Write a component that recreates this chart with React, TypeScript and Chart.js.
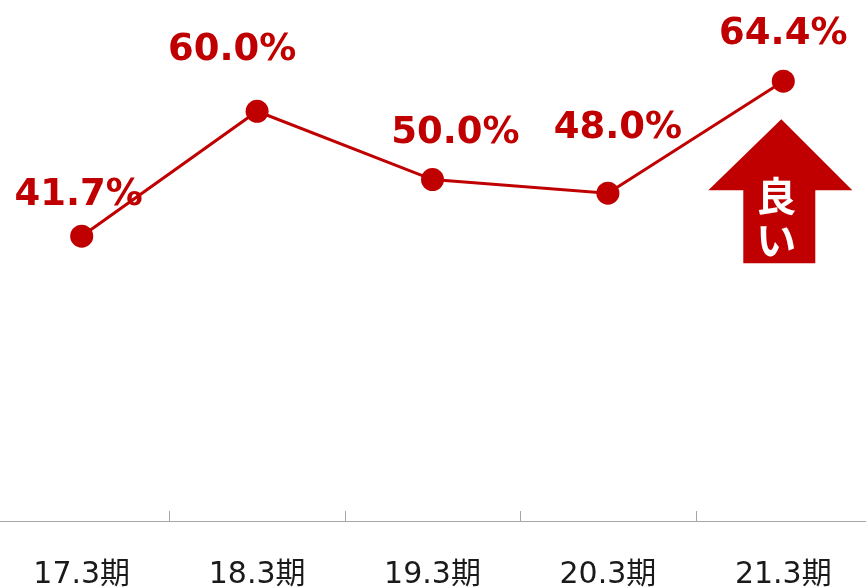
import React, { useEffect, useRef } from "react";
import { Chart, registerables } from "chart.js";

Chart.register(...registerables);

const categories = ["17.3期", "18.3期", "19.3期", "20.3期", "21.3期"];
const values = [41.7, 60.0, 50.0, 48.0, 64.4];
const valueLabels = ["41.7%", "60.0%", "50.0%", "48.0%", "64.4%"];
const labelOffsetX = [-3, -25, 23, 10, 0];
const labelOffsetY = [-41, -61, -46, -65, -47];
const arrowText = ["良", "い"];

const RED = "#C00000";

const decorPlugin = {
  id: "decor",
  afterDatasetsDraw(chart: any) {
    const ctx = chart.ctx;
    const meta = chart.getDatasetMeta(0);
    const xs = chart.scales.x;
    const area = chart.chartArea;
    ctx.save();
    // value labels
    ctx.fillStyle = RED;
    ctx.font = "bold 37px 'DejaVu Sans', Verdana, sans-serif";
    ctx.textAlign = "center";
    ctx.textBaseline = "middle";
    meta.data.forEach((pt: any, i: number) => {
      ctx.fillText(valueLabels[i], pt.x + labelOffsetX[i], pt.y + labelOffsetY[i]);
    });
    // tick marks at category boundaries (upward)
    ctx.strokeStyle = "#a6a6a6";
    ctx.lineWidth = 1;
    for (let i = 0; i < categories.length - 1; i++) {
      const x = Math.round((xs.getPixelForValue(i) + xs.getPixelForValue(i + 1)) / 2) + 0.5;
      ctx.beginPath();
      ctx.moveTo(x, area.bottom - 10);
      ctx.lineTo(x, area.bottom);
      ctx.stroke();
    }
    // arrow near last point
    const last = meta.data[meta.data.length - 1];
    const cx = last.x - 2;
    const tipY = last.y + 38;
    ctx.fillStyle = RED;
    ctx.beginPath();
    ctx.moveTo(cx, tipY);
    ctx.lineTo(cx + 71, tipY + 71);
    ctx.lineTo(cx + 34, tipY + 71);
    ctx.lineTo(cx + 34, tipY + 144);
    ctx.lineTo(cx - 38, tipY + 144);
    ctx.lineTo(cx - 38, tipY + 71);
    ctx.lineTo(cx - 73, tipY + 71);
    ctx.closePath();
    ctx.fill();
    ctx.fillStyle = "#ffffff";
    ctx.font = "bold 40px 'Noto Sans CJK JP', sans-serif";
    ctx.fillText(arrowText[0], cx - 5, tipY + 77);
    ctx.fillText(arrowText[1], cx - 5, tipY + 121);
    ctx.restore();
  },
};

export default function App() {
  const ref = useRef<HTMLCanvasElement | null>(null);
  useEffect(() => {
    document.body.style.margin = "0";
    document.body.style.overflow = "hidden";
    const chart = new Chart(ref.current as HTMLCanvasElement, {
      type: "line",
      data: {
        labels: categories,
        datasets: [
          {
            data: values,
            borderColor: RED,
            backgroundColor: RED,
            borderWidth: 3,
            pointRadius: 11.5,
            pointHoverRadius: 11.5,
            pointBackgroundColor: RED,
            pointBorderColor: RED,
            pointBorderWidth: 0,
            tension: 0,
            clip: false as any,
          },
        ],
      },
      options: {
        responsive: false,
        animation: false,
        layout: { autoPadding: false, padding: { top: 2, left: 0, right: 0, bottom: 0 } } as any,
        plugins: { legend: { display: false }, tooltip: { enabled: false } },
        scales: {
          x: {
            offset: true,
            grid: { display: false },
            border: { display: true, color: "#a6a6a6", width: 1 },
            ticks: {
              color: "#1a1a1a",
              font: { size: 30, family: "'DejaVu Sans', 'Noto Sans CJK JP', sans-serif" },
              padding: 28,
              maxRotation: 0,
            },
            afterFit: (s: any) => {
              s.height = 66;
            },
          },
          y: { display: false, min: 0, max: 76 },
        },
      },
      plugins: [decorPlugin],
    });
    return () => chart.destroy();
  }, []);
  return (
    <canvas
      ref={ref}
      width={877}
      height={587}
      style={{ display: "block", marginLeft: -6, width: 877, height: 587 }}
    />
  );
}
